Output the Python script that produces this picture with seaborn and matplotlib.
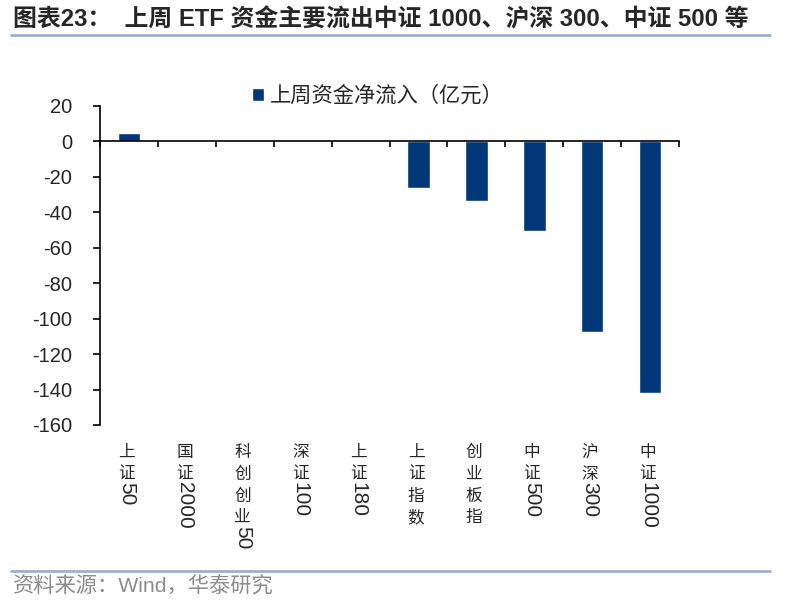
import numpy as np
import pandas as pd
import matplotlib
matplotlib.use("Agg")
import matplotlib.pyplot as plt
import matplotlib.transforms as mtransforms
from matplotlib.lines import Line2D
import seaborn as sns

# data (亿元)
categories = ["上证50", "国证2000", "科创创业50", "深证100", "上证180",
              "上证指数", "创业板指", "中证500", "沪深300", "中证1000"]
net_inflow = [4.7, 0.0, 0.0, 0.0, 0.0, -26.1, -33.8, -50.7, -107.8, -142.2]
y_ticks = [20, 0, -20, -40, -60, -80, -100, -120, -140, -160]

title = "图表23：  上周 ETF 资金主要流出中证 1000、沪深 300、中证 500 等"
series_name = "上周资金净流入（亿元）"
source = "资料来源：Wind，华泰研究"

BAR = "#003778"
RULE = "#9DB1CB"
CJK = ["Noto Sans CJK SC"]
MIXED = ["Liberation Sans", "Noto Sans CJK SC"]

sns.set_theme(style="white")
plt.rcParams["font.family"] = MIXED
plt.rcParams["axes.unicode_minus"] = False

W, H = 789, 606
fig = plt.figure(figsize=(W / 100, H / 100), dpi=100)
ax = fig.add_axes([100 / W, 1 - 425 / H, 579 / W, 319 / H])

df = pd.DataFrame({"index": categories, "flow": net_inflow})
sns.barplot(data=df, x="index", y="flow", color=BAR, saturation=1,
            width=0.39, label=series_name, ax=ax)

ax.set_ylim(-160, 20)
ax.set_xlim(-0.5, len(categories) - 0.5)
ax.set_yticks(y_ticks)
ax.set_yticklabels([str(v) for v in y_ticks], fontsize=14.5,
                   family=["Liberation Sans"])
ax.set_xticks(np.arange(-0.5, len(categories), 1))
ax.set_xticklabels([])
ax.set_xlabel("")
ax.set_ylabel("")

for s in ["top", "right"]:
    ax.spines[s].set_visible(False)
ax.spines["bottom"].set_position(("data", 0))
for s in ["left", "bottom"]:
    ax.spines[s].set_color("black")
    ax.spines[s].set_linewidth(1.2)
ax.tick_params(axis="y", direction="out", length=5, width=1.2, pad=15,
               left=True, color="black")
ax.tick_params(axis="x", direction="out", length=4, width=1.2,
               bottom=True, color="black")
ax.grid(False)

# vertical category labels: CJK upright, digits rotated
trans = mtransforms.blended_transform_factory(ax.transData, fig.transFigure)
pitch = 21.7
for i, lab in enumerate(categories):
    y = 452.7
    j = 0
    while j < len(lab):
        ch = lab[j]
        if ch.isascii():
            run = lab[j:]
            ax.text(i - 0.04, 1 - (y - 14) / H, run, rotation=-90,
                    ha="center", va="top", fontsize=15,
                    family=["Liberation Sans"], transform=trans)
            break
        ax.text(i - 0.04, 1 - y / H, ch, ha="center", va="center",
                fontsize=12, family=CJK, transform=trans)
        y += pitch
        j += 1

leg = ax.legend(loc="center left", bbox_to_anchor=(252 / W, 1 - 96 / H),
                bbox_transform=fig.transFigure, frameon=False,
                handlelength=0.55, handleheight=0.55, handletextpad=0.3,
                borderpad=0, borderaxespad=0, prop={"family": CJK, "size": 15.3})

fig.text(13 / W, 1 - 20 / H, title, ha="left", va="center",
         fontsize=17.2, fontweight="bold", family=MIXED)
fig.add_artist(Line2D([11 / W, 770 / W], [1 - 35 / H] * 2, color=RULE, lw=2))
fig.add_artist(Line2D([11 / W, 770 / W], [1 - 571 / H] * 2, color=RULE, lw=2))
fig.text(13 / W, 1 - 586 / H, source, ha="left", va="center",
         fontsize=15.3, color="#8C8C8C", family=MIXED)

fig.savefig("out.png", dpi=100)
